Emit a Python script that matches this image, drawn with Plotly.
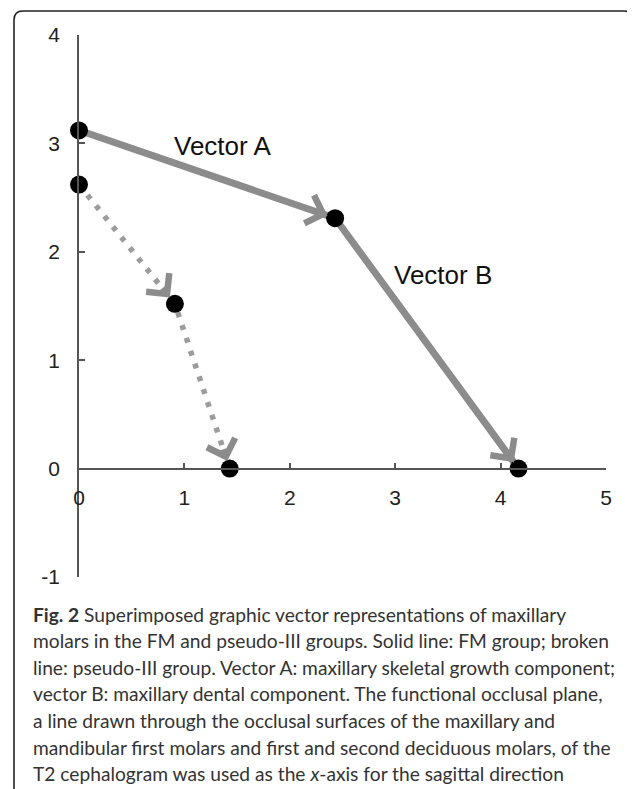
import math
import plotly.graph_objects as go

# ---- data ----
fm_x = [0.0, 2.43, 4.17]          # FM group (solid)
fm_y = [3.12, 2.31, 0.0]
p3_x = [0.0, 0.91, 1.43]          # pseudo-III group (broken)
p3_y = [2.62, 1.52, 0.0]
x_ticks = [0, 1, 2, 3, 4, 5]
y_ticks = [-1, 0, 1, 2, 3, 4]
vec_labels = ["Vector A", "Vector B"]
vec_label_x = [1.36, 3.45]
vec_label_y = [2.98, 1.79]
caption_lines = [
    "<b>Fig. 2</b> Superimposed graphic vector representations of maxillary",
    "molars in the FM and pseudo-III groups. Solid line: FM group; broken",
    "line: pseudo-III group. Vector A: maxillary skeletal growth component;",
    "vector B: maxillary dental component. The functional occlusal plane,",
    "a line drawn through the occlusal surfaces of the maxillary and",
    "mandibular first molars and first and second deciduous molars, of the",
    "T2 cephalogram was used as the <i>x</i>-axis for the sagittal direction",
]

# ---- layout geometry (page pixels; the page body has an 8px margin) ----
OFF = 8
W, H = 635 - OFF, 789 - OFF
PL, PR, PT, PB = 79, 606, 35, 577          # plot area in page pixels
L, T = PL - OFF, PT - OFF
R, B = W - (PR - OFF), H - (PB - OFF)
PW, PH = PR - PL, PB - PT
XR, YR = [0, 5], [-1, 4]
GRAY = "#8c8c8c"
DOTGRAY = "#9c9c9c"
AXC = "#555555"
FONT = "Liberation Sans, Arial, sans-serif"


def px2paper(px, py):
    return (px - PL) / PW, 1 - (py - PT) / PH


def seg_pixlen(x0, y0, x1, y1):
    sx = PW / (XR[1] - XR[0])
    sy = PH / (YR[1] - YR[0])
    return math.hypot((x1 - x0) * sx, (y1 - y0) * sy)


fig = go.Figure()
fig.add_trace(go.Scatter(x=fm_x, y=fm_y, mode="lines",
                         line=dict(color=GRAY, width=7),
                         cliponaxis=False, hoverinfo="skip"))
fig.add_trace(go.Scatter(x=p3_x, y=p3_y, mode="lines",
                         line=dict(color=DOTGRAY, width=5.5, dash="5px,8.5px"),
                         cliponaxis=False, hoverinfo="skip"))
fig.add_trace(go.Scatter(x=fm_x + p3_x, y=fm_y + p3_y, mode="markers",
                         marker=dict(color="black", size=18),
                         cliponaxis=False, hoverinfo="skip"))

annotations = []
# arrow heads at the end of each segment
for xs, ys, col in ((fm_x, fm_y, GRAY), (p3_x, p3_y, GRAY)):
    for i in range(len(xs) - 1):
        x0, y0, x1, y1 = xs[i], ys[i], xs[i + 1], ys[i + 1]
        f = 22.0 / seg_pixlen(x0, y0, x1, y1)
        annotations.append(dict(
            x=x1, y=y1, xref="x", yref="y",
            ax=x1 - f * (x1 - x0), ay=y1 - f * (y1 - y0),
            axref="x", ayref="y", text="", showarrow=True,
            arrowhead=4, arrowwidth=6.5, arrowsize=0.88,
            arrowcolor=col, standoff=8))

for t, x, y in zip(vec_labels, vec_label_x, vec_label_y):
    annotations.append(dict(x=x, y=y, xref="x", yref="y", text=t,
                            showarrow=False,
                            font=dict(family=FONT, size=26, color="#111")))

cap_y0, cap_dy = 614, 26.6
for i, line in enumerate(caption_lines):
    xp, yp = px2paper(31, cap_y0 + i * cap_dy)
    annotations.append(dict(x=xp, y=yp, xref="paper", yref="paper",
                            xanchor="left", yanchor="middle", text=line,
                            showarrow=False,
                            font=dict(family="Lato, sans-serif", size=19.2,
                                      color="#333")))

# rounded frame
bx0, by0 = px2paper(14, 11)
bx1, _ = px2paper(633, 11)
_, by2 = px2paper(14, 800)
rx = px2paper(14 + 9, 11)[0] - bx0
ry = by0 - px2paper(14, 11 + 9)[1]
path = (f"M{bx0},{by2} L{bx0},{by0 - ry} Q{bx0},{by0} {bx0 + rx},{by0} "
        f"L{bx1 - rx},{by0} Q{bx1},{by0} {bx1},{by0 - ry} L{bx1},{by2}")

fig.update_layout(
    width=W, height=H,
    margin=dict(l=L, r=R, t=T, b=B),
    paper_bgcolor="white", plot_bgcolor="white",
    showlegend=False,
    annotations=annotations,
    shapes=[dict(type="path", path=path, xref="paper", yref="paper",
                 line=dict(color="#222", width=1.6))],
    xaxis=dict(range=XR, domain=[0, 1], anchor="free", position=0.2,
               showline=True, linecolor=AXC, linewidth=1.5,
               ticks="inside", ticklen=5, tickwidth=1.5, tickcolor=AXC,
               tickvals=x_ticks, ticktext=[str(v) for v in x_ticks],
               tickfont=dict(family=FONT, size=21, color="#222"),
               ticklabelstandoff=10,
               showgrid=False, zeroline=False, fixedrange=True),
    yaxis=dict(range=YR, showline=True, linecolor=AXC, linewidth=1.5,
               ticks="inside", ticklen=6, tickwidth=1.5, tickcolor=AXC,
               tickvals=y_ticks, ticktext=[str(v) for v in y_ticks],
               tickfont=dict(family=FONT, size=21, color="#222"),
               ticklabelstandoff=13,
               showgrid=False, zeroline=False, fixedrange=True),
)

fig.write_html("out.html", config=dict(displayModeBar=False))
